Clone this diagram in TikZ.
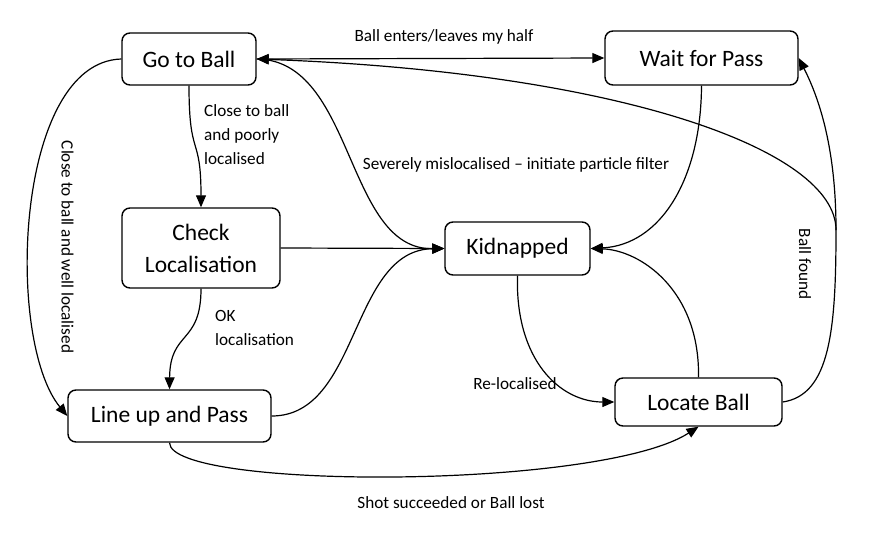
\documentclass[tikz,border=0pt]{standalone}
\usepackage{fontspec}
\setmainfont{Carlito}
\usetikzlibrary{arrows.meta}
\begin{document}
\begin{tikzpicture}[x=1pt,y=-1pt,
  state/.style={draw, line width=1.4pt, rounded corners=8pt, inner sep=0pt,
    font=\fontsize{23.5}{32}\selectfont, align=center},
  lbl/.style={font=\fontsize{17.2}{24}\selectfont, inner sep=0pt},
  edge/.style={line width=1.2pt, -{Triangle[length=12pt,width=10pt]}},
  plain/.style={line width=1.2pt}]
\useasboundingbox (0,0) rectangle (874,536);
\node[state, minimum width=134pt, minimum height=52pt] (gtb) at (189,59) {Go to Ball};
\node[state, minimum width=193pt, minimum height=54pt] (wfp) at (701.5,58) {Wait for Pass};
\node[state, minimum width=158pt, minimum height=80pt] (chk) at (201,248) {Check\\Localisation};
\node[state, minimum width=145pt, minimum height=53pt] (kid) at (517.5,248.5) {Kidnapped};
\node[state, minimum width=203pt, minimum height=52pt] (lup) at (169.5,416) {Line up and Pass};
\node[state, minimum width=167pt, minimum height=48pt] (loc) at (698.5,402) {Locate Ball};
\coordinate (bf) at (836,230);

% Go to Ball <-> Wait for Pass
\draw[edge, {Triangle[length=12pt,width=10pt]}-{Triangle[length=12pt,width=10pt]}] (gtb.east) -- (wfp.west);
\node[lbl] (l1) at (444,37) {Ball enters/leaves my half};

% Go to Ball -> Check Localisation
\draw[edge] (gtb.south) .. controls (189,160) and (201,133) .. (chk.north);
\node[lbl, anchor=north west, align=left] (l2) at (204,104) {Close to ball\\and poorly\\localised};

% Go to Ball -> Line up and Pass
\draw[edge] (gtb.west) .. controls (15,62) and (5,340) .. (lup.west);
\node[lbl, rotate=-90] (l3) at (67.5,247) {Close to ball and well localised};

% Go to Ball -> Kidnapped
\draw[edge] (gtb.east) .. controls (355,60) and (345,250) .. (kid.west);
\node[lbl] (l4) at (516,165) {Severely mislocalised – initiate particle filter};

% Check Localisation -> Kidnapped
\draw[edge] (chk.east) -- (kid.west);

% Check Localisation -> Line up and Pass
\draw[edge] (chk.south) .. controls (201,345) and (170,330) .. (lup.north);
\node[lbl, anchor=north west, align=left] (l5) at (215,310) {OK\\localisation};

% Line up and Pass -> Kidnapped
\draw[edge] (lup.east) .. controls (360,416) and (350,250) .. (kid.west);

% Wait for Pass -> Kidnapped
\draw[edge] (wfp.south) .. controls (701,180) and (660,245) .. (kid.east);

% Kidnapped -> Locate Ball
\draw[edge] (kid.south) .. controls (515,360) and (560,402) .. (loc.west);
\node[lbl] (l6) at (515,384) {Re-localised};

% Locate Ball -> Kidnapped
\draw[edge] (loc.north) .. controls (700,290) and (640,250) .. (kid.east);

% Line up and Pass -> Locate Ball
\draw[edge] (lup.south) .. controls (170,490) and (600,490) .. (loc.south);
\node[lbl] (l7) at (451,503) {Shot succeeded or Ball lost};

% Locate Ball -> Wait for Pass / Go to Ball
\draw[plain] (loc.east) .. controls (830,395) and (836,330) .. (bf);
\draw[edge] (bf) .. controls (836,150) and (820,100) .. (wfp.east);
\draw[edge] (bf) .. controls (836,150) and (620,72) .. (gtb.east);
\node[lbl, rotate=-90] (l8) at (805,264) {Ball found};
\end{tikzpicture}
\end{document}
